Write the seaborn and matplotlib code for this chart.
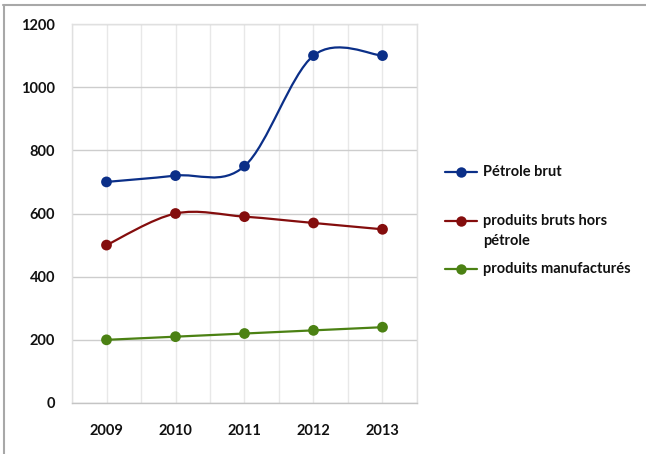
#!/usr/bin/env python

import matplotlib.pyplot as plt
import numpy as np
import pandas as pd
import seaborn as sns
from matplotlib.lines import Line2D
from matplotlib.path import Path
from matplotlib.patches import PathPatch

# Chart data.
years = ["2009", "2010", "2011", "2012", "2013"]
petrole_brut = [700, 720, 750, 1100, 1100]
produits_bruts = [500, 600, 590, 570, 550]
produits_manuf = [200, 210, 220, 230, 240]
series_names = ["Pétrole brut", "produits bruts hors\npétrole", "produits manufacturés"]
yticks = [0, 200, 400, 600, 800, 1000, 1200]

colors = ["#0b2f88", "#840d0d", "#4b8113"]

# Long form table for seaborn.
df = pd.DataFrame(
    {
        "year": years * 3,
        "pos": list(range(len(years))) * 3,
        "value": petrole_brut + produits_bruts + produits_manuf,
        "serie": sum([[name] * len(years) for name in series_names], []),
    }
)

sns.set_style("white")
plt.rcParams["font.family"] = ["Lato", "DejaVu Sans"]
plt.rcParams["font.weight"] = "bold"

W, H = 646, 454
fig = plt.figure(figsize=(W / 100, H / 100), dpi=100)
ax = fig.add_axes([72 / W, 1 - 403 / H, (417 - 72) / W, (403 - 24) / H])


def smooth_path(xs, ys):
    # Excel-like smoothed line: cubic Bezier through each point
    # (Catmull-Rom control points, ends duplicated).
    pts = np.column_stack([xs, ys]).astype(float)
    ext = np.vstack([pts[0], pts, pts[-1]])
    verts = [tuple(pts[0])]
    codes = [Path.MOVETO]
    for i in range(len(pts) - 1):
        p0, p1, p2, p3 = ext[i], ext[i + 1], ext[i + 2], ext[i + 3]
        c1 = p1 + (p2 - p0) / 6.0
        c2 = p2 - (p3 - p1) / 6.0
        verts += [tuple(c1), tuple(c2), tuple(p2)]
        codes += [Path.CURVE4] * 3
    return Path(verts, codes)


for name, color in zip(series_names, colors):
    sub = df[df["serie"] == name]
    patch = PathPatch(
        smooth_path(sub["pos"], sub["value"]),
        facecolor="none",
        edgecolor=color,
        lw=1.6,
        zorder=3,
    )
    ax.add_patch(patch)

sns.scatterplot(
    data=df,
    x="pos",
    y="value",
    hue="serie",
    palette=colors,
    s=60,
    edgecolor="none",
    legend=False,
    ax=ax,
    zorder=4,
)

ax.set_xlim(-0.5, len(years) - 0.5)
ax.set_ylim(0, 1200)
ax.set_yticks(yticks)
ax.set_xticks(range(len(years)))
ax.set_xticklabels(years)
ax.set_xticks(np.arange(-0.5, len(years), 1.0), minor=True)
ax.set_xlabel("")
ax.set_ylabel("")

ax.grid(axis="y", color="#cdcdcd", lw=1.0)
ax.grid(axis="x", which="both", color="#e8e8e8", lw=1.0)
ax.set_axisbelow(True)
for side in ["left", "right", "top"]:
    ax.spines[side].set_color("#e0e0e0")
ax.spines["bottom"].set_color("#c4c4c4")
for sp in ax.spines.values():
    sp.set_linewidth(1.0)

ax.tick_params(axis="both", which="both", length=0, labelsize=10.5, colors="#111111")
ax.tick_params(axis="y", pad=12)
ax.tick_params(axis="x", pad=15)

# Legend to the right.
def px(x, y):
    return x / W, 1 - y / H


legend_y = [172, 231, 269]
for name, color, ly in zip(series_names, colors, legend_y):
    x0, y0 = px(445, ly if "\n" not in name else 221)
    x1, _ = px(477, 0)
    xm, _ = px(461, 0)
    fig.add_artist(Line2D([x0, x1], [y0, y0], color=color, lw=1.6, transform=fig.transFigure))
    fig.add_artist(
        Line2D([xm], [y0], color=color, marker="o", ms=7.5, mec="none", transform=fig.transFigure)
    )
    tx, _ = px(483, 0)
    fig.text(tx, y0, name.split("\n")[0], va="center", ha="left", fontsize=10.5, color="#111111")
    if "\n" in name:
        _, y2 = px(0, 241)
        fig.text(tx, y2, name.split("\n")[1], va="center", ha="left", fontsize=10.5, color="#111111")

# Chart frame (top and left edges are visible).
fig.add_artist(Line2D([3 / W, 1], [1 - 4.5 / H, 1 - 4.5 / H], color="#a8a8a8", lw=1.5, transform=fig.transFigure))
fig.add_artist(Line2D([3.5 / W, 3.5 / W], [0, 1 - 4.5 / H], color="#a8a8a8", lw=1.5, transform=fig.transFigure))

fig.savefig("out.png", dpi=100)
